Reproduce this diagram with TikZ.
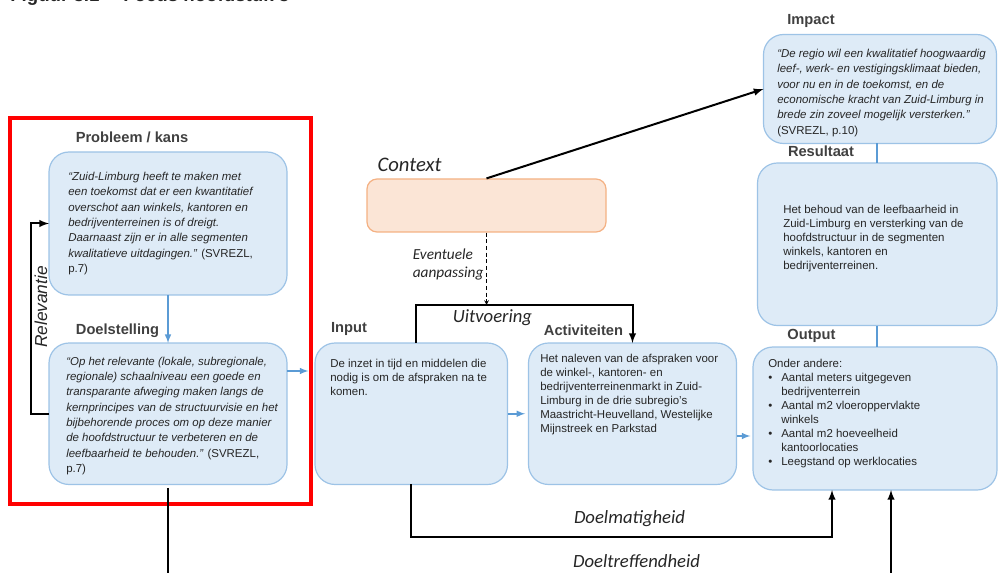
\documentclass[tikz,border=0pt]{standalone}
\usepackage{fontspec}
\setmainfont{Liberation Sans}
\newfontfamily\calibri{Carlito}
\usepackage{tikz}
\usetikzlibrary{arrows, calc, positioning}
\definecolor{boxfill}{HTML}{DEEBF7}
\definecolor{boxline}{HTML}{9DC3E6}
\definecolor{pijlblauw}{HTML}{5B9BD5}
\definecolor{ctxfill}{HTML}{FBE5D6}
\definecolor{ctxline}{HTML}{F4B183}
\definecolor{tekst}{HTML}{262626}
\definecolor{kopgrijs}{HTML}{404040}

\begin{document}
\begin{tikzpicture}[>=latex, x=0.75pt, y=-0.75pt, inner sep=0pt,
	blok/.style={draw=boxline, fill=boxfill, line width=0.9pt, rounded corners=15pt, outer sep=0pt},
	kop/.style={font=\bfseries\fontsize{11}{13}\selectfont, text=kopgrijs},
	citaat/.style={align=left, anchor=north west, text=tekst, font=\itshape\fontsize{8.6}{11.5}\selectfont},
	gewoon/.style={align=left, anchor=north west, text=tekst, font=\fontsize{8.6}{10.5}\selectfont},
	kalibri/.style={font=\calibri\itshape\fontsize{14}{16}\selectfont, text=black!85},
	blauw/.style={->, >=latex, pijlblauw, line width=1.2pt},
	blauwlijn/.style={-, pijlblauw, line width=1.2pt},
	zwart/.style={->, black, line width=1.5pt}]

	\useasboundingbox (0,0) rectangle (998,573);

	\node[anchor=base west, font=\bfseries\fontsize{14}{16}\selectfont, text=black!85](titel) at (10,2) {\makebox[84.75pt][l]{Figuur 3.1}Focus hoofdstuk 3};

	% rood kader
	\draw[red, line width=2.4pt] (10,118) rectangle (311,504);

	% blokken
	\node[blok, minimum width=178.5pt, minimum height=107.25pt](probleem) at (168,223.5) {};
	\node[blok, minimum width=178.5pt, minimum height=106.1pt](doel) at (168,413.75) {};
	\node[blok, minimum width=144.4pt, minimum height=106.1pt](input) at (411.25,413.75) {};
	\node[blok, minimum width=156pt, minimum height=106.1pt](act) at (632.5,413.75) {};
	\node[blok, minimum width=174.75pt, minimum height=81.75pt](impact) at (880,89) {};
	\node[blok, minimum width=179.6pt, minimum height=121.9pt](resultaat) at (877.25,244.25) {};
	\node[blok, minimum width=183pt, minimum height=107.25pt](output) at (875,418.5) {};
	\node[draw=ctxline, fill=ctxfill, line width=0.9pt, rounded corners=7.5pt, minimum width=179.25pt, minimum height=39.75pt](context) at (486.5,205.5) {};

	% koppen
	\node[kop](probleemkop) at (132,137) {Probleem / kans};
	\node[kop](doelkop) at (117.5,330.5) {Doelstelling};
	\node[kop](inputkop) at (349,329) {Input};
	\node[kop](actkop) at (583.5,330) {Activiteiten};
	\node[kop](impactkop) at (811,20.5) {Impact};
	\node[kop](resultaatkop) at (821,151.5) {Resultaat};
	\node[kop](outputkop) at (811.5,335.5) {Output};
	\node[kalibri, font=\calibri\itshape\fontsize{15.5}{18}\selectfont](contextkop) at (409.5,165) {Context};

	% teksten
	\node[citaat](probleemtekst) at (68,172) {“Zuid-Limburg heeft te maken met\\een toekomst dat er een kwantitatief\\overschot aan winkels, kantoren en\\bedrijventerreinen is of dreigt.\\Daarnaast zijn er in alle segmenten\\kwalitatieve uitdagingen.” {\upshape (SVREZL,}\\{\upshape p.7)}};
	\node[citaat](doeltekst) at (66,356.5) {“Op het relevante (lokale, subregionale,\\regionale) schaalniveau een goede en\\transparante afweging maken langs de\\kernprincipes van de structuurvisie en het\\bijbehorende proces om op deze manier\\de hoofdstructuur te verbeteren en de\\leefbaarheid te behouden.” {\upshape (SVREZL,}\\{\upshape p.7)}};
	\node[gewoon](inputtekst) at (330,358.5) {De inzet in tijd en middelen die\\nodig is om de afspraken na te\\komen.};
	\node[gewoon](acttekst) at (540,354) {Het naleven van de afspraken voor\\de winkel-, kantoren- en\\bedrijventerreinenmarkt in Zuid-\\Limburg in de drie subregio’s\\Maastricht-Heuvelland, Westelijke\\Mijnstreek en Parkstad};
	\node[citaat](impacttekst) at (777,49) {“De regio wil een kwalitatief hoogwaardig\\leef-, werk- en vestigingsklimaat bieden,\\voor nu en in de toekomst, en de\\economische kracht van Zuid-Limburg in\\brede zin zoveel mogelijk versterken.”\\{\upshape (SVREZL, p.10)}};
	\node[gewoon, font=\fontsize{8.6}{10.65}\selectfont](resultaattekst) at (783,204.5) {Het behoud van de leefbaarheid in\\Zuid-Limburg en versterking van de\\hoofdstructuur in de segmenten\\winkels, kantoren en\\bedrijventerreinen.};
	\node[gewoon](outputtekst) at (768,359) {Onder andere:\\\makebox[9.75pt][l]{•}Aantal meters uitgegeven\\\hspace*{9.75pt}bedrijventerrein\\\makebox[9.75pt][l]{•}Aantal m2 vloeroppervlakte\\\hspace*{9.75pt}winkels\\\makebox[9.75pt][l]{•}Aantal m2 hoeveelheid\\\hspace*{9.75pt}kantoorlocaties\\\makebox[9.75pt][l]{•}Leegstand op werklocaties};

	% labels bij de lijnen
	\node[kalibri, font=\calibri\itshape\fontsize{11.5}{13.5}\selectfont, align=left, anchor=north west](aanpassing) at (412.5,249) {Eventuele\\aanpassing};
	\node[kalibri](uitvoering) at (492.5,318) {Uitvoering};
	\node[kalibri](doelmatig) at (629.5,519) {Doelmatigheid};
	\node[kalibri](doeltreffend) at (636.5,561.5) {Doeltreffendheid};
	\node[font=\itshape\fontsize{13}{15}\selectfont, text=black!85, rotate=90](relevantie) at (41,307) {Relevantie};

	% verbindingen
	\coordinate (uitv) at ($(input.north)+(4.75,-38)$);
	\coordinate (actuit) at ($(act.east)+(0,22.25)$);
	\draw[blauw] (probleem) -- (doel);
	\draw[blauw, shorten >=5pt] ($(doel.east)+(0,-42.75)$) -- ($(input.west)+(0,-42.75)$);
	\draw[blauw, shorten >=2.5pt] (input) -- (act);
	\draw[blauw, shorten >=2pt] (actuit) -- (actuit -| output.west);
	\draw[blauwlijn] (resultaat.north) -- (resultaat.north |- impact.south);
	\draw[blauwlijn] (resultaat.south) -- (resultaat.south |- output.north);
	\draw[zwart] (doel.west) -- ++(-18,0) |- (probleem.west);
	\draw[zwart] (context.north) -- (impact.west);
	\draw[->, >=stealth, black, densely dashed, line width=0.6pt] (context.south) -- (context.south |- uitv);
	\draw[zwart] ($(input.north)+(4.75,0)$) -- (uitv) -| (act.north);
	\draw[zwart] (input.south) -- ++(0,52.5) -| ($(output.south)+(-43,0)$);
	\draw[zwart, shorten <=2.5pt] (doel.south) -- ++(0,120) -| ($(output.south)+(16,0)$);
\end{tikzpicture}
\end{document}
